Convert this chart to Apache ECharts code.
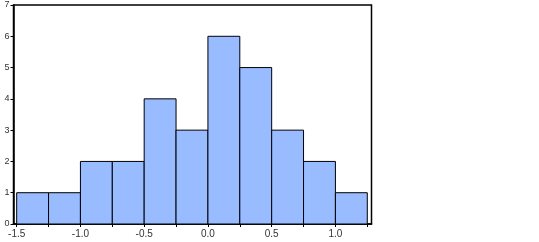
<!DOCTYPE html>
<html><head><meta charset="utf-8">
<script src="https://cdn.jsdelivr.net/npm/echarts@6/dist/echarts.min.js"></script>
<style>html,body{margin:0;padding:0;background:#fff}#c{width:539px;height:242px}</style>
</head><body><div id="c"></div>
<script>
var binStart = [-1.5, -1.25, -1.0, -0.75, -0.5, -0.25, 0.0, 0.25, 0.5, 0.75, 1.0];
var binEnd   = [-1.25, -1.0, -0.75, -0.5, -0.25, 0.0, 0.25, 0.5, 0.75, 1.0, 1.25];
var counts   = [1, 1, 2, 2, 4, 3, 6, 5, 3, 2, 1];
var xLabels  = [-1.5, -1.0, -0.5, 0.0, 0.5, 1.0];
var xTicks   = [-1.5, -1.25, -1.0, -0.75, -0.5, -0.25, 0.0, 0.25, 0.5, 0.75, 1.0, 1.25];
var yTicks   = [0, 1, 2, 3, 4, 5, 6, 7];

var data = binStart.map(function(s, i){ return [s, binEnd[i], counts[i]]; });
var chart = echarts.init(document.getElementById('c'), null, {renderer:'canvas'});
chart.setOption({
  animation: false,
  grid: {left: 13.5, right: 167.5, top: 5, bottom: 18, show: true, borderColor: '#000', borderWidth: 1.5, backgroundColor: 'transparent'},
  xAxis: {
    type: 'value', min: -1.525, max: 1.283,
    axisLine: {show: true, onZero: false, lineStyle: {color: '#000', width: 1.5}},
    axisTick: {show: true, length: 3, customValues: xTicks, lineStyle: {color: '#000'}},
    axisLabel: {customValues: xLabels, color: '#333', fontSize: 10, fontFamily: 'Liberation Sans, Arial, sans-serif', margin: 5,
      formatter: function(v){ return v.toFixed(1); }},
    splitLine: {show: false}
  },
  yAxis: {
    type: 'value', min: 0, max: 7,
    axisLine: {show: true, onZero: false, lineStyle: {color: '#000', width: 1.5}},
    axisTick: {show: true, length: 3, customValues: yTicks, lineStyle: {color: '#000'}},
    axisLabel: {customValues: yTicks, color: '#333', fontSize: 9, fontFamily: 'Liberation Sans, Arial, sans-serif', margin: 4},
    splitLine: {show: false}
  },
  series: [{
    type: 'custom',
    data: data,
    encode: {x: [0, 1], y: 2},
    renderItem: function(params, api){
      var p0 = api.coord([api.value(0), api.value(2)]);
      var p1 = api.coord([api.value(1), 0]);
      return {type: 'rect', shape: {x: p0[0], y: p0[1], width: p1[0]-p0[0], height: p1[1]-p0[1]},
        style: {fill: '#99bbff', stroke: '#000', lineWidth: 1}};
    }
  }]
});
</script></body></html>
